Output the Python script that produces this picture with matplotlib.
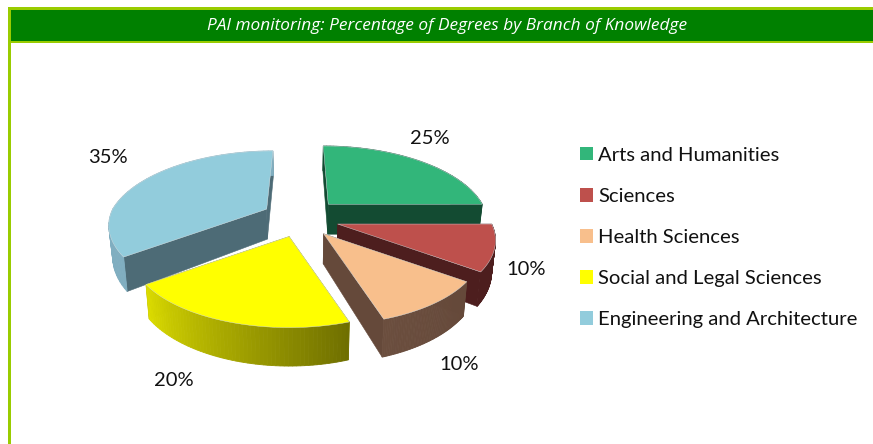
import numpy as np
import matplotlib
matplotlib.use('Agg')
import matplotlib.pyplot as plt
from matplotlib.patches import Patch, Rectangle
from matplotlib.colors import to_rgb

title = "PAI monitoring: Percentage of Degrees by Branch of Knowledge"
branches = ["Arts and Humanities", "Sciences", "Health Sciences",
            "Social and Legal Sciences", "Engineering and Architecture"]
shares = [25, 10, 10, 20, 35]
top_colors = ['#32B67A', '#BE504C', '#F8BF8C', '#FFFF00', '#92CCDC']
radial_colors = ['#134B32', '#4D1E1E', '#65493A', '#8F8F00', '#4D6B76']
# outer wall colour at the start and the end of each slice (clockwise)
wall_colors = [('#134B32', '#134B32'), ('#4D1E1E', '#4D1E1E'), ('#65493A', '#6B4E3E'),
               ('#6F6F00', '#DCDC00'), ('#80AEC0', '#80AEC0')]
label_pos = [(430, 138), (526, 269), (459, 364), (174, 380), (108, 157)]
draw_order = [0, 4, 1, 2, 3]

cx, cy = 301, 218
rx, ry = 154, 71
persp = 0.22
depth = 30
explode_x, explode_y = 0.25, 0.275


def project(ox, oy, x, y, z=0.0):
    # apex moves with the explode offset, perspective only follows the slice itself
    d = 1 + persp * y
    sx = cx + rx * (ox / np.maximum(d, 1) + x / d) * (1 - 0.02 * z)
    sy = cy - ry * oy - ry * y / d + depth * z / d
    return sx, sy


fig = plt.figure(figsize=(8.73, 4.44), dpi=100)
ax = fig.add_axes([0, 0, 1, 1])
ax.set_xlim(0, 873)
ax.set_ylim(444, 0)
ax.axis('off')

# frame and title bar
lime = '#99CC00'
ax.add_patch(Rectangle((7.5, 7.5), 866, 36, fc=lime, ec='none'))
ax.add_patch(Rectangle((7.5, 7.5), 3, 437, fc=lime, ec='none'))
ax.add_patch(Rectangle((10.5, 10), 863, 31, fc='#008000', ec='none'))
ax.text(447, 26.5, title, color='white', fontsize=12.38, style='italic',
        family='Open Sans', ha='center', va='center')

# slices, back to front
edges = np.cumsum([0] + shares) / sum(shares) * 2 * np.pi
for i in draw_order:
    start, end = edges[i], edges[i + 1]
    mid = (start + end) / 2
    ox, oy = explode_x * np.sin(mid), explode_y * np.cos(mid)
    t = np.linspace(start, end, 60)
    arc_x = np.sin(t)
    arc_y = np.cos(t)

    # radial walls
    for k in (0, -1):
        xs = np.array([0, arc_x[k]])
        ys = np.array([0, arc_y[k]])
        xa, ya = project(ox, oy, xs, ys)
        xb, yb = project(ox, oy, xs, ys, 1.0)
        ax.fill(np.r_[xa, xb[::-1]], np.r_[ya, yb[::-1]], color=radial_colors[i], lw=0.4)

    # outer wall
    c0, c1 = np.array(to_rgb(wall_colors[i][0])), np.array(to_rgb(wall_colors[i][1]))
    for j in range(len(t) - 1):
        xa, ya = project(ox, oy, arc_x[j:j + 2], arc_y[j:j + 2])
        xb, yb = project(ox, oy, arc_x[j:j + 2], arc_y[j:j + 2], 1.0)
        col = c0 + (c1 - c0) * j / (len(t) - 2)
        ax.fill(np.r_[xa, xb[::-1]], np.r_[ya, yb[::-1]], color=col, lw=0.6)

    # top face
    xt, yt = project(ox, oy, np.r_[0, arc_x], np.r_[0, arc_y])
    ax.fill(xt, yt, facecolor=top_colors[i], edgecolor='#D5DDE0', lw=0.3)

for value, pos in zip(shares, label_pos):
    ax.text(pos[0], pos[1], f"{value}%", fontsize=14.5, family='Lato', color='#111111',
            ha='center', va='center')

handles = [Patch(facecolor=c, edgecolor='none') for c in top_colors]
ax.legend(handles, branches, loc='upper left', bbox_to_anchor=(566 / 873, 1 - 132.6 / 444),
          frameon=False, prop={'family': 'Lato', 'size': 14.6}, handlelength=0.65,
          handleheight=0.65, handletextpad=0.25, labelspacing=1.19, borderpad=0.2,
          labelcolor='#111111')

fig.savefig('out.png', dpi=100)
